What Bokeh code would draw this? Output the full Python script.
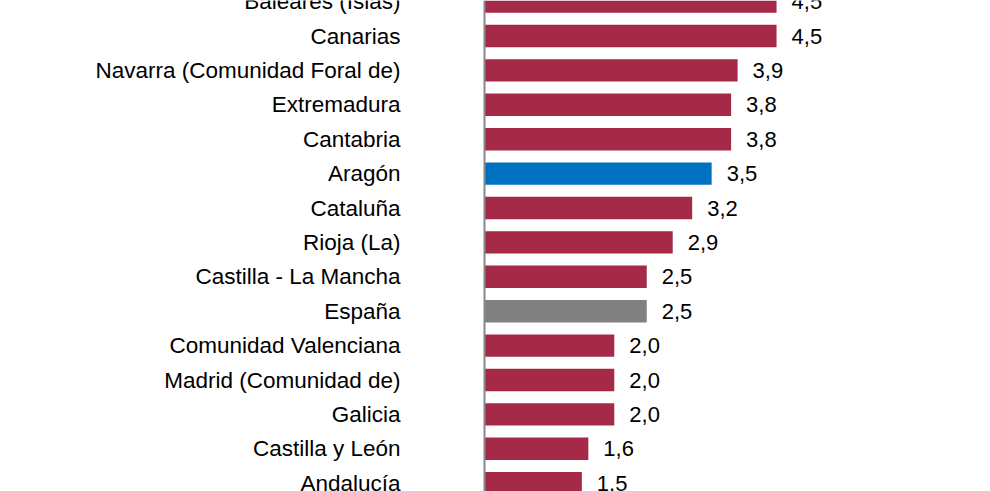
from bokeh.plotting import figure
from bokeh.models import ColumnDataSource, Range1d, Span
from bokeh.core.properties import value
from bokeh.embed import file_html
from bokeh.resources import INLINE

# Data (top to bottom as in the chart)
regions = [
    "Baleares (Islas)", "Canarias", "Navarra (Comunidad Foral de)", "Extremadura",
    "Cantabria", "Aragón", "Cataluña", "Rioja (La)", "Castilla - La Mancha",
    "España", "Comunidad Valenciana", "Madrid (Comunidad de)", "Galicia",
    "Castilla y León", "Andalucía",
]
values = [4.5, 4.5, 3.9, 3.8, 3.8, 3.5, 3.2, 2.9, 2.5, 2.5, 2.0, 2.0, 2.0, 1.6, 1.5]

RED = "#A52A47"
BLUE = "#0070C0"
GREY = "#808080"

n = len(regions)
ypos = [n - 1 - i for i in range(n)]  # first region at the top
colors = [GREY if r == "España" else BLUE if r == "Aragón" else RED for r in regions]
labels = [f"{v:.1f}".replace(".", ",") for v in values]

src = ColumnDataSource(dict(y=ypos, v=values, c=colors, lab=labels, name=regions))

W, H = 990, 491
axis_px = 484          # pixel column of the value-axis origin
px_per_unit_x = 64.9
px_per_row = 34.4
top_val = (n - 1) + 1.1 / px_per_row
bottom_val = top_val - H / px_per_row

p = figure(
    width=W, height=H,
    x_range=Range1d(-axis_px / px_per_unit_x, (W - axis_px) / px_per_unit_x),
    y_range=Range1d(bottom_val, top_val),
    output_backend="svg", toolbar_location=None,
    x_axis_location=None, y_axis_location=None,
    min_border_left=0, min_border_right=0, min_border_top=0, min_border_bottom=0,
)
p.outline_line_color = None
p.xgrid.visible = False
p.ygrid.visible = False
p.background_fill_color = "white"
p.border_fill_color = "white"

p.hbar(y="y", left=0, right="v", height=0.65, fill_color="c", line_color=None, source=src)

# value labels
p.text(x="v", y="y", text="lab", x_offset=15, text_align="left", text_baseline="middle",
       text_font=value("Liberation Sans"), text_font_size="22px", text_color="#000000",
       source=src)

# category labels, right-aligned left of the axis line
p.text(x=0, y="y", text="name", x_offset=-84, text_align="right", text_baseline="middle",
       text_font=value("Liberation Sans"), text_font_size="22.5px", text_color="#000000",
       source=src)

# vertical axis line
p.add_layout(Span(location=0, dimension="height", line_color="#888888", line_width=2))

open("out.html", "w").write(file_html(p, INLINE))
